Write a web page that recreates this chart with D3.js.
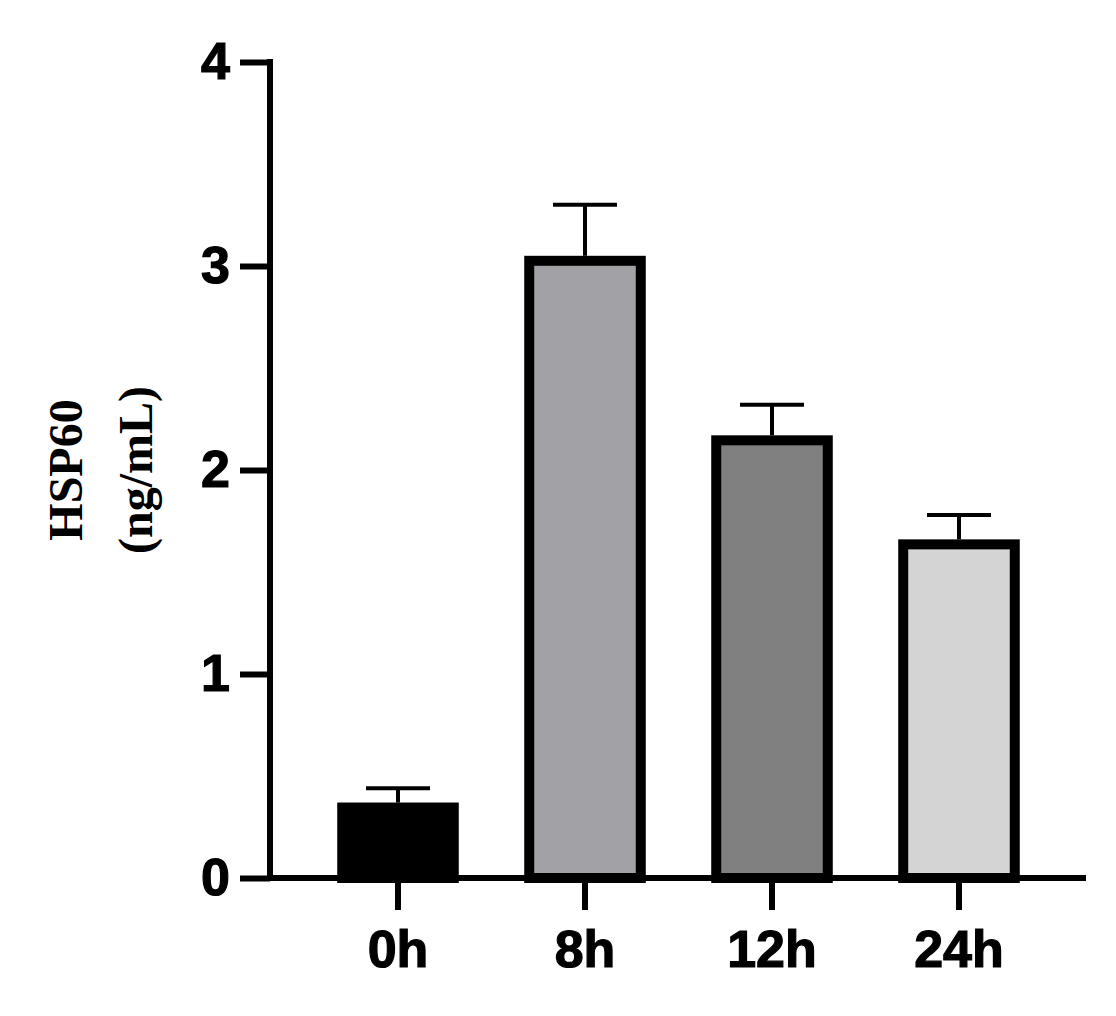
<!DOCTYPE html>
<html><head><meta charset="utf-8">
<script src="https://cdn.jsdelivr.net/npm/d3@7"></script>
<style>body{margin:0;background:#fff}</style>
</head><body>
<div class="chart"></div>
<script>
const groups = ["0h", "8h", "12h", "24h"];
const means = [0.37, 3.05, 2.17, 1.66];
const errs = [0.07, 0.25, 0.15, 0.12];
const fills = ["#000000", "#a2a2a6", "#808080", "#d4d4d4"];
const yTicks = [0, 1, 2, 3, 4];

const svg = d3.select(".chart").append("svg")
  .attr("width", 1116).attr("height", 1016);

const x = d3.scaleBand().domain(groups).range([304.5, 1052.5]).paddingInner(0.35).paddingOuter(0.175);
const y = d3.scaleLinear().domain([0, 4]).range([878, 62]);

// bars
svg.selectAll(".bar").data(groups).enter().append("rect")
  .attr("x", d => x(d) + 5)
  .attr("width", x.bandwidth() - 10)
  .attr("y", (d, i) => y(means[i]) + 5)
  .attr("height", (d, i) => y(0) - y(means[i]) - 5)
  .attr("fill", (d, i) => fills[i])
  .attr("stroke", "#000").attr("stroke-width", 10);

// error bars (upper only)
const eb = svg.selectAll(".err").data(groups).enter().append("g");
eb.append("line")
  .attr("x1", d => x(d) + x.bandwidth() / 2).attr("x2", d => x(d) + x.bandwidth() / 2)
  .attr("y1", (d, i) => y(means[i])).attr("y2", (d, i) => y(means[i] + errs[i]))
  .attr("stroke", "#000").attr("stroke-width", 4);
eb.append("line")
  .attr("x1", d => x(d) + x.bandwidth() / 2 - 32).attr("x2", d => x(d) + x.bandwidth() / 2 + 32)
  .attr("y1", (d, i) => y(means[i] + errs[i])).attr("y2", (d, i) => y(means[i] + errs[i]))
  .attr("stroke", "#000").attr("stroke-width", 4);

// axes
const yAxis = svg.append("g").attr("transform", "translate(270,0)")
  .call(d3.axisLeft(y).tickValues(yTicks).tickFormat(d3.format("d")).tickSize(30).tickPadding(10));
const xAxis = svg.append("g").attr("transform", "translate(0,878)")
  .call(d3.axisBottom(x).tickSize(32).tickPadding(20));
xAxis.select(".domain").attr("d", "M270,0H1086");
[yAxis, xAxis].forEach(a => {
  a.selectAll("path,line").attr("stroke", "#000").attr("stroke-width", 6);
  a.selectAll("text").attr("fill", "#000").style("font-family", "Liberation Sans, Arial")
    .style("font-weight", "bold").style("font-size", "52px")
    .attr("stroke", "#000").attr("stroke-width", 1.2);
});
yAxis.select(".domain").attr("d", "M0,59V878");

// y title
const t = svg.append("text").attr("transform", "translate(0,470) rotate(-90)")
  .attr("text-anchor", "middle")
  .style("font-family", "Liberation Serif, Times New Roman").style("font-weight", "bold").style("font-size", "48px");
t.append("tspan").attr("x", 0).attr("y", 82).text("HSP60");
t.append("tspan").attr("x", 0).attr("y", 152).text("(ng/mL)");
</script>
</body></html>
